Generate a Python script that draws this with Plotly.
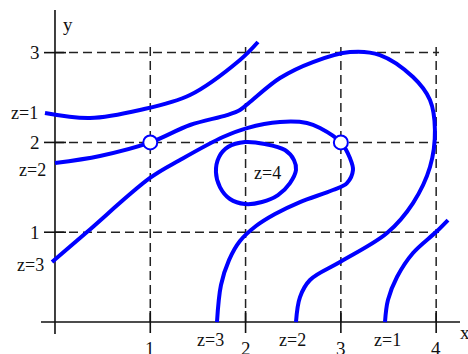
import plotly.graph_objects as go

# Level curves of z, traced as smooth point lists (x, y)
z1_upper_x = [-0.105, 0.367, 0.892, 1.417, 1.941, 2.130]
z1_upper_y = [2.327, 2.272, 2.361, 2.528, 2.918, 3.118]

z1_lower_x = [3.463, 3.494, 3.589, 3.757, 3.998, 4.124]
z1_lower_y = [0.0, 0.245, 0.501, 0.768, 1.002, 1.136]

z2_x = [0.0, 0.472, 1.0, 1.417, 1.805, 1.941, 2.046, 2.361, 2.707, 3.095, 3.410,
        3.757, 3.935, 3.987, 3.935, 3.757, 3.484, 2.991, 2.676, 2.571, 2.529]
z2_y = [1.771, 1.849, 2.0, 2.194, 2.305, 2.361, 2.450, 2.717, 2.895, 3.007, 2.973,
        2.728, 2.472, 2.138, 1.726, 1.325, 0.991, 0.668, 0.468, 0.278, 0.0]

z3_x = [-0.031, 0.336, 0.997, 1.312, 1.763, 2.015, 2.361, 2.644, 2.781, 3.0, 3.095,
        3.127, 3.064, 2.917, 2.571, 2.309, 2.109, 1.941, 1.826, 1.742, 1.700]
z3_y = [0.668, 1.002, 1.604, 1.804, 2.060, 2.160, 2.227, 2.216, 2.160, 2.0, 1.826,
        1.693, 1.548, 1.470, 1.336, 1.203, 1.069, 0.902, 0.690, 0.412, 0.0]

z4_x = [1.994, 2.204, 2.413, 2.508, 2.529, 2.466, 2.340, 2.172, 1.994, 1.836,
        1.731, 1.689, 1.721, 1.815, 1.994]
z4_y = [2.004, 1.982, 1.915, 1.804, 1.693, 1.548, 1.414, 1.336, 1.314, 1.370,
        1.503, 1.670, 1.837, 1.949, 2.004]

# Marked points
pts_x = [1, 3]
pts_y = [2, 2]

# Curve labels
label_text = ["z=1", "z=2", "z=3", "z=4", "z=3", "z=2", "z=1"]
label_x = [-0.315, -0.241, -0.262, 2.235, 1.637, 2.497, 3.494]
label_y = [2.327, 1.693, 0.635, 1.659, -0.20, -0.20, -0.20]

# Axis ticks
x_ticks = [1, 2, 3, 4]
y_ticks = [1, 2, 3]
x_tick_labels = ["1", "2", "3", "4"]
y_tick_labels = ["1", "2", "3"]

BLUE = "#0000ff"
INK = "#111111"
SERIF = "Liberation Serif, Times New Roman, serif"

fig = go.Figure()

# Dashed grid within 0..4 x 0..3
shapes = []
for xv in x_ticks:
    shapes.append(dict(type="line", xref="x", yref="y", x0=xv, x1=xv, y0=0, y1=3.08,
                       line=dict(color="#222222", width=1.5, dash="9px,5px"), layer="below"))
for yv in y_ticks:
    shapes.append(dict(type="line", xref="x", yref="y", x0=0, x1=4.03, y0=yv, y1=yv,
                       line=dict(color="#222222", width=1.5, dash="9px,5px"), layer="below"))

# Axes lines
shapes.append(dict(type="line", xref="x", yref="y", x0=-0.147, x1=4.25, y0=0, y1=0,
                   line=dict(color=INK, width=1.6), layer="below"))
shapes.append(dict(type="line", xref="x", yref="y", x0=0, x1=0, y0=-0.134, y1=3.474,
                   line=dict(color=INK, width=1.6), layer="below"))

# Tick marks crossing the axes
for xv in x_ticks:
    shapes.append(dict(type="line", xref="x", yref="y", x0=xv, x1=xv,
                       ysizemode="pixel", yanchor=0, y0=-11, y1=11,
                       line=dict(color=INK, width=1.6), layer="below"))
for yv in y_ticks:
    shapes.append(dict(type="line", xref="x", yref="y", y0=yv, y1=yv,
                       xsizemode="pixel", xanchor=0, x0=-11, x1=11,
                       line=dict(color=INK, width=1.6), layer="below"))

curve_line = dict(color=BLUE, width=4, shape="spline", smoothing=1.0)
for cx, cy in [(z1_upper_x, z1_upper_y), (z1_lower_x, z1_lower_y),
               (z2_x, z2_y), (z3_x, z3_y), (z4_x, z4_y)]:
    fig.add_trace(go.Scatter(x=cx, y=cy, mode="lines", line=curve_line,
                             hoverinfo="skip", showlegend=False))

fig.add_trace(go.Scatter(x=pts_x, y=pts_y, mode="markers",
                         marker=dict(size=14, color="white", line=dict(color=BLUE, width=2)),
                         hoverinfo="skip", showlegend=False))

annotations = []
for t, lx, ly in zip(label_text, label_x, label_y):
    annotations.append(dict(x=lx, y=ly, xref="x", yref="y", text=t, showarrow=False,
                            font=dict(family=SERIF, size=18, color=INK)))
for t, xv in zip(x_tick_labels, x_ticks):
    annotations.append(dict(x=xv, y=-0.29, xref="x", yref="y", text=t, showarrow=False,
                            font=dict(family=SERIF, size=19, color=INK)))
for t, yv in zip(y_tick_labels, y_ticks):
    annotations.append(dict(x=-0.14, y=yv, xref="x", yref="y", text=t, showarrow=False,
                            xanchor="right", font=dict(family=SERIF, size=19, color=INK)))
annotations.append(dict(x=4.30, y=-0.12, xref="x", yref="y", text="x", showarrow=False,
                        font=dict(family=SERIF, size=19, color=INK)))
annotations.append(dict(x=0.136, y=3.31, xref="x", yref="y", text="y", showarrow=False,
                        font=dict(family=SERIF, size=19, color=INK)))

fig.update_layout(
    width=468, height=354,
    margin=dict(l=0, r=0, t=0, b=0),
    paper_bgcolor="white", plot_bgcolor="white",
    xaxis=dict(visible=False, range=[-0.577, 4.334], fixedrange=True),
    yaxis=dict(visible=False, range=[-0.356, 3.586], fixedrange=True),
    shapes=shapes,
    annotations=annotations,
)

fig.write_html("out.html")
